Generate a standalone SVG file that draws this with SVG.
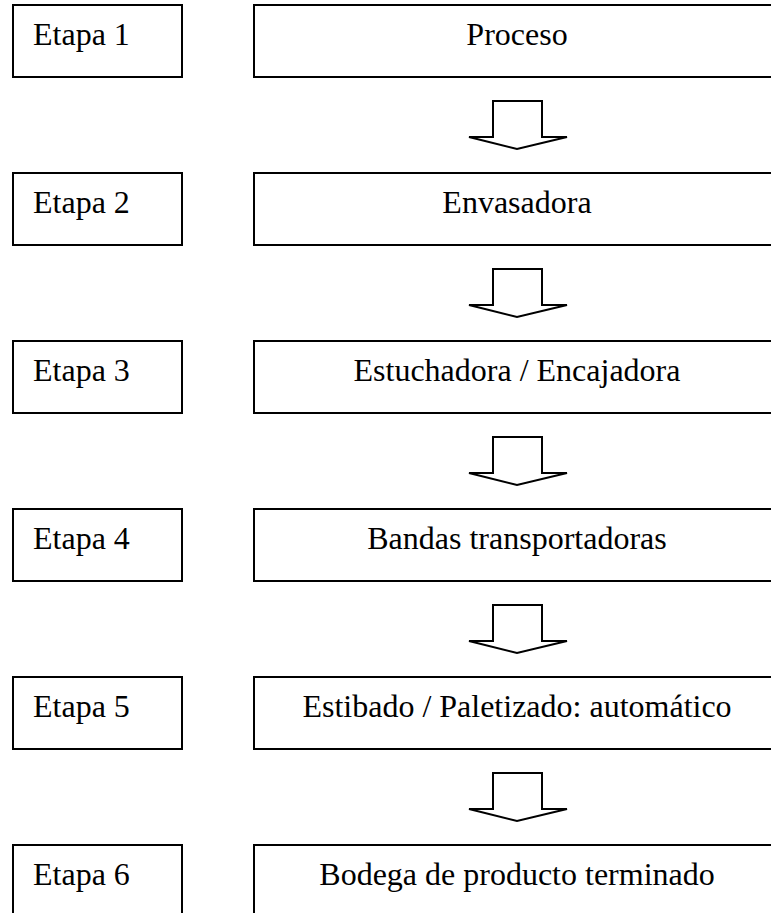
<svg xmlns="http://www.w3.org/2000/svg" width="771" height="913" viewBox="0 0 771 913">
<style>
.box{fill:#fff;stroke:#000;stroke-width:2}
.arr{fill:#fff;stroke:#000;stroke-width:2;stroke-linejoin:miter}
.t{font-family:'Liberation Serif','Times New Roman',Tinos,'DejaVu Serif',serif;font-size:32px;fill:#000}
.c{text-anchor:middle}
</style>
<defs>
<polygon id="arrow" class="arr" points="493,101 542,101 542,137 567,137 517,149 469,137 493,137"/>
</defs>
<rect width="771" height="913" fill="#fff"/>
<g id="connectors">
<use href="#arrow"/>
<use href="#arrow" y="168"/>
<use href="#arrow" y="336"/>
<use href="#arrow" y="504"/>
<use href="#arrow" y="672"/>
</g>
<g id="etapa1"><rect class="box" x="13" y="5" width="169" height="72"/><text class="t" x="33" y="45">Etapa 1</text></g>
<g id="proceso"><rect class="box" x="254" y="5" width="526" height="72"/><text class="t c" x="517" y="45">Proceso</text></g>
<g id="etapa2"><rect class="box" x="13" y="173" width="169" height="72"/><text class="t" x="33" y="213">Etapa 2</text></g>
<g id="envasadora"><rect class="box" x="254" y="173" width="526" height="72"/><text class="t c" x="517" y="213">Envasadora</text></g>
<g id="etapa3"><rect class="box" x="13" y="341" width="169" height="72"/><text class="t" x="33" y="381">Etapa 3</text></g>
<g id="estuchadora"><rect class="box" x="254" y="341" width="526" height="72"/><text class="t c" x="517" y="381">Estuchadora / Encajadora</text></g>
<g id="etapa4"><rect class="box" x="13" y="509" width="169" height="72"/><text class="t" x="33" y="549">Etapa 4</text></g>
<g id="bandas"><rect class="box" x="254" y="509" width="526" height="72"/><text class="t c" x="517" y="549">Bandas transportadoras</text></g>
<g id="etapa5"><rect class="box" x="13" y="677" width="169" height="72"/><text class="t" x="33" y="717">Etapa 5</text></g>
<g id="estibado"><rect class="box" x="254" y="677" width="526" height="72"/><text class="t c" x="517" y="717">Estibado / Paletizado: automático</text></g>
<g id="etapa6"><rect class="box" x="13" y="845" width="169" height="72"/><text class="t" x="33" y="885">Etapa 6</text></g>
<g id="bodega"><rect class="box" x="254" y="845" width="526" height="72"/><text class="t c" x="517" y="885">Bodega de producto terminado</text></g>
</svg>
